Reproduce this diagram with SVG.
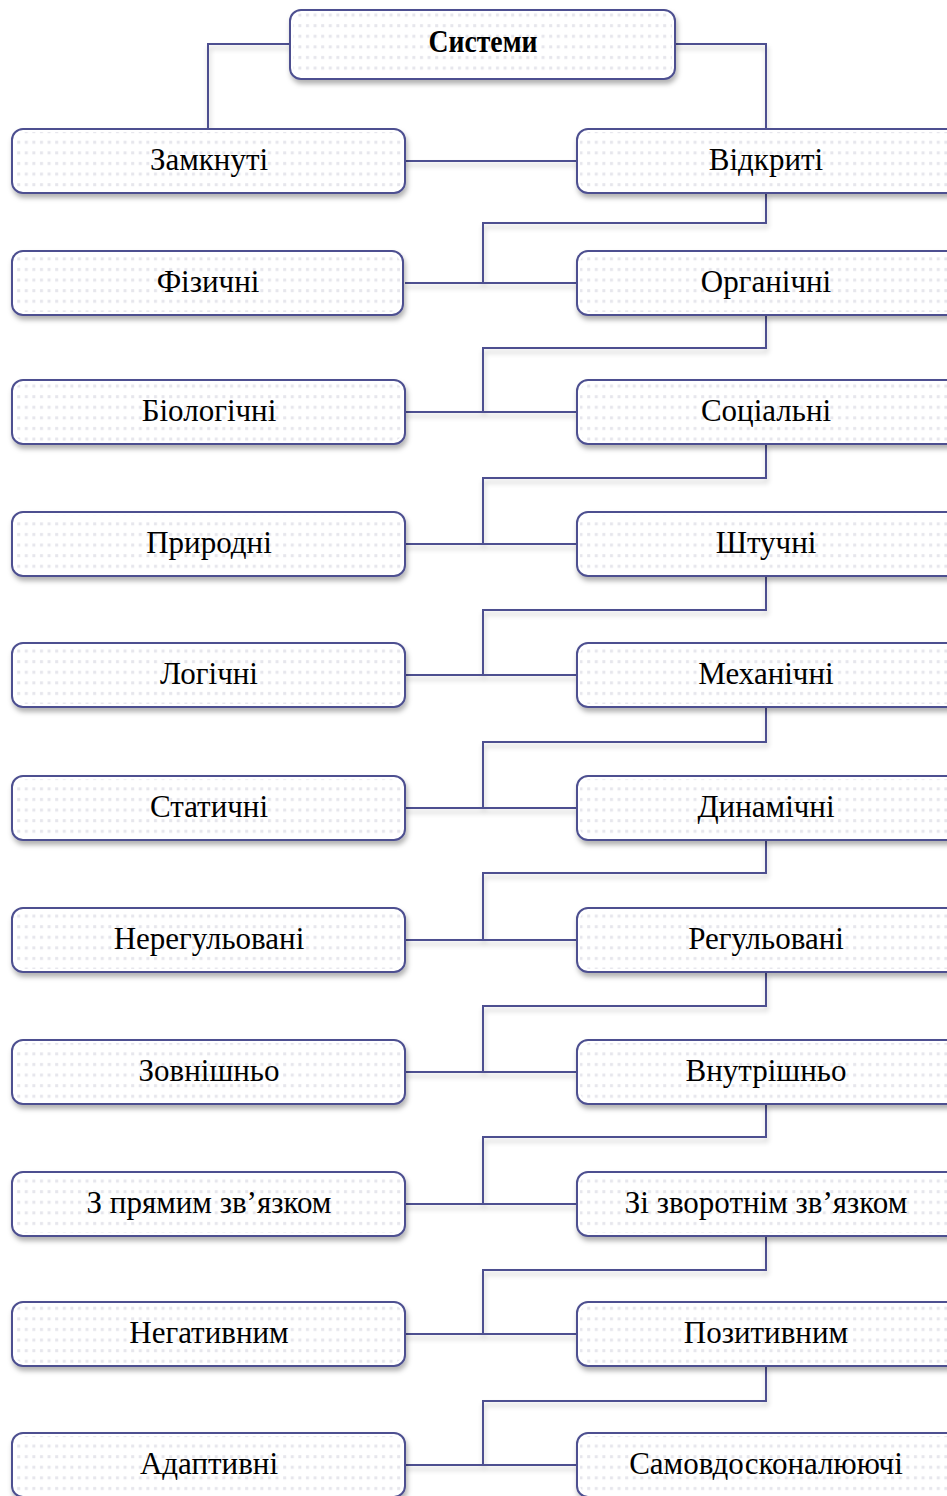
<svg xmlns="http://www.w3.org/2000/svg" width="947" height="1496" viewBox="0 0 947 1496">
<defs>
<pattern id="dots" x="0" y="0" width="7.6" height="10.6" patternUnits="userSpaceOnUse">
<rect x="2" y="3" width="3" height="3" fill="#e6e6ec"/>
</pattern>
<filter id="sh" x="-10%" y="-30%" width="120%" height="180%">
<feDropShadow dx="1.5" dy="4" stdDeviation="2.5" flood-color="#000" flood-opacity="0.3"/>
</filter>
<filter id="lsh" x="-10%" y="-50%" width="120%" height="300%">
<feDropShadow dx="1" dy="4" stdDeviation="2.5" flood-color="#000" flood-opacity="0.22"/>
</filter>
</defs>
<style>
.box{fill:#fff;stroke:#4d5090;stroke-width:2}
.pat{fill:url(#dots);stroke:none}
.lbl{font-family:"Liberation Serif","Times New Roman",serif;font-size:31px;fill:#000;text-anchor:middle}
.ttl{font-weight:bold}
.con{fill:none;stroke:#4d5090;stroke-width:2}
</style>
<rect width="947" height="1496" fill="#fff"/>
<g id="connectors" filter="url(#lsh)">
<path class="con" d="M290,44 H208 V129"/>
<path class="con" d="M675,44 H766 V129"/>
<path class="con" d="M405,161 H577"/>
<path class="con" d="M766,193 V223 H483 V283"/>
<path class="con" d="M405,283 H577"/>
<path class="con" d="M766,315 V348 H483 V412"/>
<path class="con" d="M405,412 H577"/>
<path class="con" d="M766,444 V478 H483 V544"/>
<path class="con" d="M405,544 H577"/>
<path class="con" d="M766,576 V610 H483 V675"/>
<path class="con" d="M405,675 H577"/>
<path class="con" d="M766,707 V742 H483 V808"/>
<path class="con" d="M405,808 H577"/>
<path class="con" d="M766,840 V873 H483 V940"/>
<path class="con" d="M405,940 H577"/>
<path class="con" d="M766,972 V1006 H483 V1072"/>
<path class="con" d="M405,1072 H577"/>
<path class="con" d="M766,1104 V1137 H483 V1204"/>
<path class="con" d="M405,1204 H577"/>
<path class="con" d="M766,1236 V1270 H483 V1334"/>
<path class="con" d="M405,1334 H577"/>
<path class="con" d="M766,1366 V1401 H483 V1465"/>
<path class="con" d="M405,1465 H577"/>
</g>
<g id="n-systemy"><rect class="box" filter="url(#sh)" x="290" y="10" width="385" height="69" rx="11"/><rect class="pat" x="293" y="13" width="379" height="63" rx="9"/><text class="lbl ttl" x="483" y="52" textLength="109" lengthAdjust="spacingAndGlyphs">Системи</text></g>
<g id="n-zamknuti"><rect class="box" filter="url(#sh)" x="12" y="129" width="393" height="64" rx="11"/><rect class="pat" x="15" y="132" width="387" height="58" rx="9"/><text class="lbl" x="209" y="169.5">Замкнуті</text></g>
<g id="n-vidkryti"><rect class="box" filter="url(#sh)" x="577" y="129" width="393" height="64" rx="11"/><rect class="pat" x="580" y="132" width="387" height="58" rx="9"/><text class="lbl" x="766" y="169.5">Відкриті</text></g>
<g id="n-fizychni"><rect class="box" filter="url(#sh)" x="12" y="251" width="391" height="64" rx="11"/><rect class="pat" x="15" y="254" width="385" height="58" rx="9"/><text class="lbl" x="208" y="291.5">Фізичні</text></g>
<g id="n-organichni"><rect class="box" filter="url(#sh)" x="577" y="251" width="393" height="64" rx="11"/><rect class="pat" x="580" y="254" width="387" height="58" rx="9"/><text class="lbl" x="766" y="291.5">Органічні</text></g>
<g id="n-biologichni"><rect class="box" filter="url(#sh)" x="12" y="380" width="393" height="64" rx="11"/><rect class="pat" x="15" y="383" width="387" height="58" rx="9"/><text class="lbl" x="209" y="420.5">Біологічні</text></g>
<g id="n-sotsialni"><rect class="box" filter="url(#sh)" x="577" y="380" width="393" height="64" rx="11"/><rect class="pat" x="580" y="383" width="387" height="58" rx="9"/><text class="lbl" x="766" y="420.5">Соціальні</text></g>
<g id="n-pryrodni"><rect class="box" filter="url(#sh)" x="12" y="512" width="393" height="64" rx="11"/><rect class="pat" x="15" y="515" width="387" height="58" rx="9"/><text class="lbl" x="209" y="552.5">Природні</text></g>
<g id="n-shtuchni"><rect class="box" filter="url(#sh)" x="577" y="512" width="393" height="64" rx="11"/><rect class="pat" x="580" y="515" width="387" height="58" rx="9"/><text class="lbl" x="766" y="552.5">Штучні</text></g>
<g id="n-logichni"><rect class="box" filter="url(#sh)" x="12" y="643" width="393" height="64" rx="11"/><rect class="pat" x="15" y="646" width="387" height="58" rx="9"/><text class="lbl" x="209" y="683.5">Логічні</text></g>
<g id="n-mekhanichni"><rect class="box" filter="url(#sh)" x="577" y="643" width="393" height="64" rx="11"/><rect class="pat" x="580" y="646" width="387" height="58" rx="9"/><text class="lbl" x="766" y="683.5">Механічні</text></g>
<g id="n-statychni"><rect class="box" filter="url(#sh)" x="12" y="776" width="393" height="64" rx="11"/><rect class="pat" x="15" y="779" width="387" height="58" rx="9"/><text class="lbl" x="209" y="816.5">Статичні</text></g>
<g id="n-dynamichni"><rect class="box" filter="url(#sh)" x="577" y="776" width="393" height="64" rx="11"/><rect class="pat" x="580" y="779" width="387" height="58" rx="9"/><text class="lbl" x="766" y="816.5">Динамічні</text></g>
<g id="n-nereguliovani"><rect class="box" filter="url(#sh)" x="12" y="908" width="393" height="64" rx="11"/><rect class="pat" x="15" y="911" width="387" height="58" rx="9"/><text class="lbl" x="209" y="948.5">Нерегульовані</text></g>
<g id="n-reguliovani"><rect class="box" filter="url(#sh)" x="577" y="908" width="393" height="64" rx="11"/><rect class="pat" x="580" y="911" width="387" height="58" rx="9"/><text class="lbl" x="766" y="948.5">Регульовані</text></g>
<g id="n-zovnishno"><rect class="box" filter="url(#sh)" x="12" y="1040" width="393" height="64" rx="11"/><rect class="pat" x="15" y="1043" width="387" height="58" rx="9"/><text class="lbl" x="209" y="1080.5">Зовнішньо</text></g>
<g id="n-vnutrishno"><rect class="box" filter="url(#sh)" x="577" y="1040" width="393" height="64" rx="11"/><rect class="pat" x="580" y="1043" width="387" height="58" rx="9"/><text class="lbl" x="766" y="1080.5">Внутрішньо</text></g>
<g id="n-priamym"><rect class="box" filter="url(#sh)" x="12" y="1172" width="393" height="64" rx="11"/><rect class="pat" x="15" y="1175" width="387" height="58" rx="9"/><text class="lbl" x="209" y="1212.5">З прямим зв’язком</text></g>
<g id="n-zvorotnim"><rect class="box" filter="url(#sh)" x="577" y="1172" width="393" height="64" rx="11"/><rect class="pat" x="580" y="1175" width="387" height="58" rx="9"/><text class="lbl" x="766" y="1212.5">Зі зворотнім зв’язком</text></g>
<g id="n-negatyvnym"><rect class="box" filter="url(#sh)" x="12" y="1302" width="393" height="64" rx="11"/><rect class="pat" x="15" y="1305" width="387" height="58" rx="9"/><text class="lbl" x="209" y="1342.5">Негативним</text></g>
<g id="n-pozytyvnym"><rect class="box" filter="url(#sh)" x="577" y="1302" width="393" height="64" rx="11"/><rect class="pat" x="580" y="1305" width="387" height="58" rx="9"/><text class="lbl" x="766" y="1342.5">Позитивним</text></g>
<g id="n-adaptyvni"><rect class="box" filter="url(#sh)" x="12" y="1433" width="393" height="64" rx="11"/><rect class="pat" x="15" y="1436" width="387" height="58" rx="9"/><text class="lbl" x="209" y="1473.5">Адаптивні</text></g>
<g id="n-samovdoskonaliuiuchi"><rect class="box" filter="url(#sh)" x="577" y="1433" width="393" height="64" rx="11"/><rect class="pat" x="580" y="1436" width="387" height="58" rx="9"/><text class="lbl" x="766" y="1473.5">Самовдосконалюючі</text></g>
</svg>
